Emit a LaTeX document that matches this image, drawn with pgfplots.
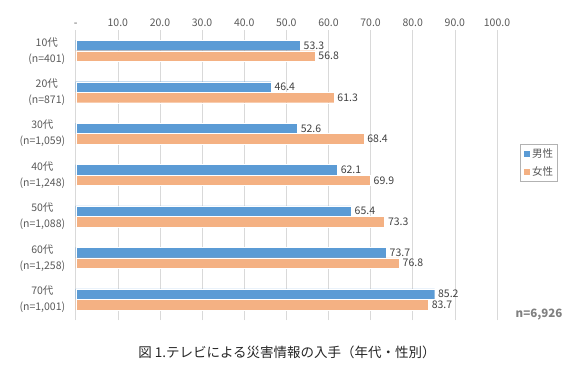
\documentclass[border=0pt]{standalone}
\usepackage{pgfplots}
\pgfplotsset{compat=1.18}
\usepackage{fontspec}
\setmainfont{Noto Sans CJK JP}
\definecolor{mblue}{HTML}{5B9BD5}
\definecolor{forange}{HTML}{F4B183}
\definecolor{txt}{HTML}{595959}
\definecolor{lbl}{HTML}{404040}
\definecolor{gridc}{HTML}{D9D9D9}
\begin{document}
\begin{tikzpicture}
\useasboundingbox (0,0) rectangle (580pt,368pt);
\begin{axis}[
  at={(75.7pt,48pt)}, anchor=south west,
  scale only axis, width=421.3pt, height=290pt,
  xbar, bar width=10.5pt,
  xmin=0, xmax=100, ymin=-0.5, ymax=6.5,
  xtick={0,10,...,100},
  xticklabels={-,10.0,20.0,30.0,40.0,50.0,60.0,70.0,80.0,90.0,100.0},
  xticklabel pos=upper,
  ytick={0,...,6},
  yticklabels={{70代\\(n=1,001)},{60代\\(n=1,258)},{50代\\(n=1,088)},{40代\\(n=1,248)},{30代\\(n=1,059)},{20代\\(n=871)},{10代\\(n=401)}},
  yticklabel style={align=center, font=\fontsize{10.5}{16}\selectfont, text=txt, xshift=-7pt},
  xticklabel style={font=\fontsize{10.5}{12}\selectfont, text=txt},
  /pgf/number format/assume math mode=true,
  major tick length=0pt,
  axis line style={draw=none},
  xmajorgrids, grid style={gridc, line width=0.6pt},
  nodes near coords,
  nodes near coords style={font=\fontsize{10.5}{12}\selectfont, text=lbl, /pgf/number format/.cd, fixed, precision=1, fixed zerofill},
  legend style={at={(1,0.543)}, anchor=west, xshift=23pt, draw=gray!60, font=\fontsize{10.5}{12}\selectfont, text=txt, inner sep=2.5pt, row sep=4pt},
  legend image code/.code={\fill[#1] (0pt,-3.5pt) rectangle (7pt,3.5pt);},
]
\addplot[fill=mblue, draw=white, line width=0.3pt, bar shift=5.25pt] coordinates {(85.2,0) (73.7,1) (65.4,2) (62.1,3) (52.6,4) (46.4,5) (53.3,6)};
\addlegendentry{男性}
\addplot[fill=forange, draw=white, line width=0.3pt, bar shift=-5.25pt] coordinates {(83.7,0) (76.8,1) (73.3,2) (69.9,3) (68.4,4) (61.3,5) (56.8,6)};
\addlegendentry{女性}
\end{axis}
\node[font=\bfseries\fontsize{11.5}{13}\selectfont, text=gray] at (539pt,53pt) {n=6,926};
\node[font=\fontsize{13.5}{15}\selectfont, text=black!85] at (287pt,16pt) {図 1.テレビによる災害情報の入手（年代・性別）};
\end{tikzpicture}
\end{document}
